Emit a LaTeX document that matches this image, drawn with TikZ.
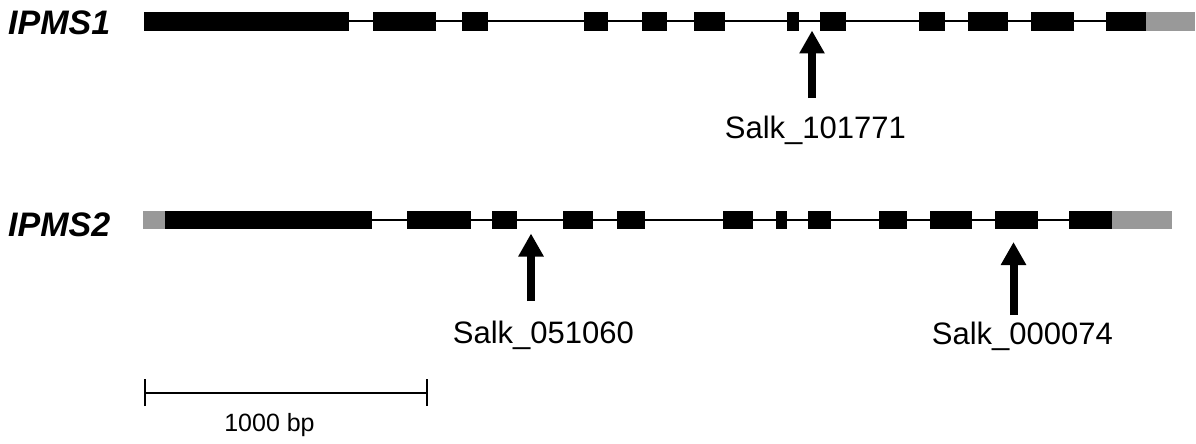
\documentclass[tikz,border=0pt]{standalone}
\usepackage{fontspec}
\setmainfont{Liberation Sans}
\usetikzlibrary{arrows.meta}
\begin{document}
\begin{tikzpicture}[x=1pt,y=-1pt,
  exon/.style={fill=black, draw=none, inner sep=0pt, outer sep=0pt},
  utr/.style={fill=black!40, draw=none, inner sep=0pt, outer sep=0pt},
  intron/.style={draw=black, line width=2pt},
  ins/.style={line width=8pt, -{Triangle[width=24pt,length=23pt]}},
  lab/.style={font=\fontsize{31}{31}\selectfont, anchor=base, inner sep=0pt},
  genename/.style={font=\fontsize{34}{34}\selectfont\bfseries\itshape, anchor=base west, inner sep=0pt},
  scalebar/.style={line width=2pt, {Bar[width=27pt]}-{Bar[width=27pt]}}]
\useasboundingbox (0,0) rectangle (1196,444);

% ---------- IPMS1 ----------
\node[genename] (n1) at (8,35) {IPMS1};
\foreach \a/\b [count=\i] in {143.5/349, 373/436, 461.5/488, 584/607.5, 641.5/667, 694/724.5, 787/799, 820/846, 919/945, 968/1008, 1031/1074, 1106/1146}
  \node[exon, minimum width={(\b-\a)*1pt}, minimum height=19pt] (a\i) at ({(\a+\b)/2},21.5) {};
\node[utr, minimum width=49pt, minimum height=19pt] (u1) at (1170.5,21.5) {};
\draw[intron] (a1.east) -- (a12.west);

% ---------- IPMS2 ----------
\node[genename] (n2) at (8,236.5) {IPMS2};
\node[utr, minimum width=22.5pt, minimum height=18.5pt] (v0) at (153.75,220) {};
\foreach \a/\b [count=\i] in {165/372, 407/471, 492/517, 563/593, 617/644.5, 723/753, 775.5/787, 807.5/830.5, 878.5/907, 930/971.5, 994.5/1037.5, 1069/1112}
  \node[exon, minimum width={(\b-\a)*1pt}, minimum height=18.5pt] (b\i) at ({(\a+\b)/2},220) {};
\node[utr, minimum width=60pt, minimum height=18.5pt] (v1) at (1142,220) {};
\draw[intron] (b1.east) -- (b12.west);

% ---------- insertions ----------
\coordinate (s1) at (812,98);
\coordinate (t1) at (812,30.5);
\draw[ins] (s1) -- (t1);
\node[lab] (l1) at (815.4,138) {Salk\_101771};

\coordinate (s2) at (531,301);
\coordinate (t2) at (531,233.5);
\draw[ins] (s2) -- (t2);
\node[lab] (l2) at (543.4,343) {Salk\_051060};

\coordinate (s3) at (1013.5,315);
\coordinate (t3) at (1013.5,242);
\draw[ins] (s3) -- (t3);
\node[lab] (l3) at (1022.4,344) {Salk\_000074};

% ---------- scale bar ----------
\coordinate (sb1) at (144,392.7);
\coordinate (sb2) at (427.7,392.7);
\draw[scalebar] (sb1) -- (sb2);
\node[lab, font=\fontsize{25}{25}\selectfont] (sbl) at (269.5,431.7) {1000 bp};
\end{tikzpicture}
\end{document}
